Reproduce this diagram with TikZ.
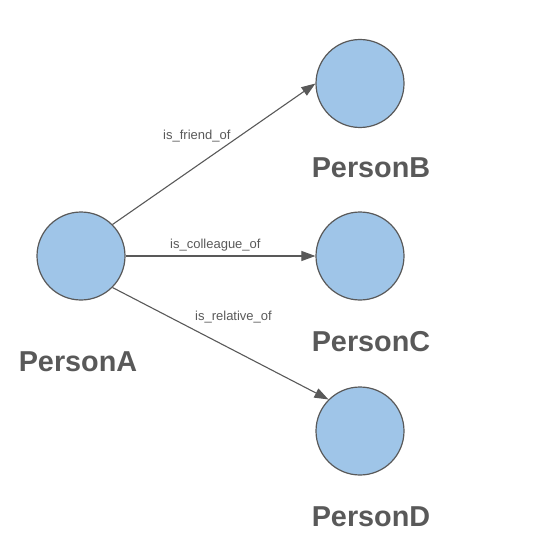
\documentclass[tikz,border=0pt]{standalone}
\usepackage{fontspec}
\setmainfont{Liberation Sans}
\usetikzlibrary{arrows.meta}
\definecolor{nodefill}{HTML}{9FC5E8}
\definecolor{edgegray}{HTML}{595959}
\begin{document}
\begin{tikzpicture}[x=1pt,y=-1pt,
  person/.style={circle,draw=edgegray,fill=nodefill,line width=1.2pt,minimum size=88pt,inner sep=0pt},
  personname/.style={anchor=base,font=\fontsize{28.8}{30}\selectfont\bfseries,text=edgegray,inner sep=0pt},
  rel/.style={draw=edgegray,line width=1.1pt,-{Triangle[length=14pt,width=10pt]}},
  rellabel/.style={anchor=base west,font=\fontsize{13}{15}\selectfont,text=edgegray,inner sep=0pt}]
\useasboundingbox (0,0) rectangle (535,556);
\node[person] (A) at (81,256) {};
\node[person] (B) at (360,83.5) {};
\node[person] (C) at (360,256) {};
\node[person] (D) at (360,431) {};
\node[personname] (lA) at (78,371) {PersonA};
\node[personname] (lB) at (371,177.5) {PersonB};
\node[personname] (lC) at (371,351.5) {PersonC};
\node[personname] (lD) at (371,526.5) {PersonD};
\draw[rel] (A.north east) -- (B.west);
\draw[rel] (A.east) -- (C.west);
\draw[rel] (A.south east) -- (D.north west);
\node[rellabel] (fr) at (163,140) {is\_friend\_of};
\node[rellabel] (co) at (170,248) {is\_colleague\_of};
\node[rellabel] (re) at (195,320) {is\_relative\_of};
\end{tikzpicture}
\end{document}
